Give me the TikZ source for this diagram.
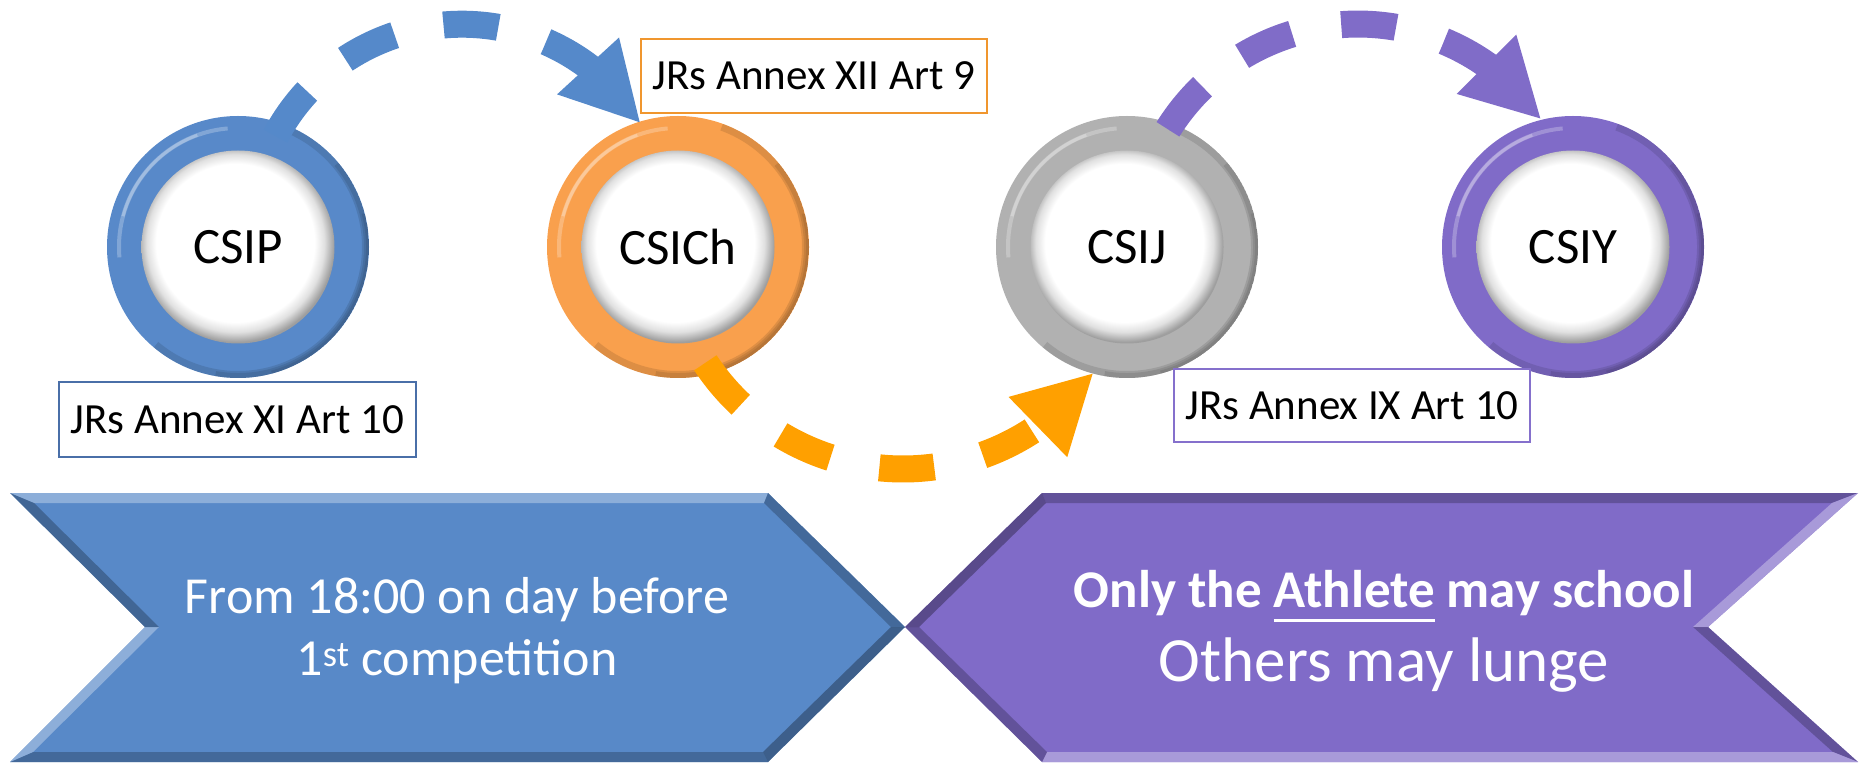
\documentclass[tikz,border=0pt]{standalone}
\usepackage{fontspec}
\setmainfont{Carlito}
\usetikzlibrary{arrows.meta,bending,calc}

\definecolor{cblue}{HTML}{5889C9}
\definecolor{corange}{HTML}{F9A04D}
\definecolor{cgray}{HTML}{B1B1B1}
\definecolor{cpurple}{HTML}{806BC8}
\definecolor{ablue}{HTML}{5589CA}
\definecolor{aorange}{HTML}{FFA000}
\definecolor{apurple}{HTML}{806CC8}
\definecolor{chblue}{HTML}{5889C8}
\definecolor{chpurple}{HTML}{806BC8}
\definecolor{bxblue}{HTML}{4A6FA8}
\definecolor{bxorange}{HTML}{F0962E}
\definecolor{bxpurple}{HTML}{8570CC}

\pgfdeclareradialshading{innerdisk}{\pgfpoint{-1.2bp}{1.8bp}}{color(0bp)=(white); color(20.5bp)=(white); color(23bp)=(white!88!black); color(25.5bp)=(white!62!black); color(50bp)=(white!62!black)}

\newcommand\athul[1]{\setbox0\hbox{#1}\rlap{\rule[-15pt]{\wd0}{3pt}}#1}

\tikzset{
  ring/.style={circle, inner sep=0pt, minimum size=262pt, fill=#1,
    font=\fontsize{51}{60}\selectfont,
    path picture={
      \draw[#1!50!black, opacity=0.22, line width=7pt] (path picture bounding box.center) ++(-130:127.5pt) arc[start angle=-130, end angle=70, radius=127.5pt];
      \draw[#1!50!black, opacity=0.22, line width=5pt] (path picture bounding box.center) ++(-100:128.5pt) arc[start angle=-100, end angle=40, radius=128.5pt];
      \draw[#1!50!black, opacity=0.22, line width=3pt] (path picture bounding box.center) ++(-75:129.5pt) arc[start angle=-75, end angle=15, radius=129.5pt];
      \draw[white, opacity=0.25, line width=4pt] (path picture bounding box.center) ++(95:119pt) arc[start angle=95, end angle=185, radius=119pt];
      \draw[white, opacity=0.25, line width=3pt] (path picture bounding box.center) ++(110:119pt) arc[start angle=110, end angle=165, radius=119pt];
      \shade[shading=innerdisk] (path picture bounding box.center) circle (96.5pt);
    }},
  flow/.style={draw=#1, line width=27pt, dash pattern=on 55pt off 50pt,
    -{Triangle[width=78pt,length=78pt,flex]}},
  lab/.style={draw=#1, line width=2pt, fill=white, inner sep=0pt,
    text height=28pt, text depth=0pt, font=\fontsize{43}{50}\selectfont},
  chtext/.style={text=white, align=center, inner sep=0pt}
}

\begin{document}
\begin{tikzpicture}[x=1pt, y=1pt]
\useasboundingbox (0,0) rectangle (1860,764);

% ---------- blue chevron ----------
\fill[chblue] (10,271) -- (768,271) -- (905,137) -- (768,2) -- (10,2) -- (145,137) -- cycle;
\fill[white!45!chblue, opacity=0.7] (10,271) -- (768,271) -- (764,261) -- (34,261) -- cycle;
\fill[chblue!55!black, opacity=0.5] (768,271) -- (905,137) -- (891,137) -- (764,261) -- cycle;
\fill[chblue!45!black, opacity=0.55] (905,137) -- (768,2) -- (763,12) -- (891,137) -- cycle;
\fill[chblue!55!black, opacity=0.5] (768,2) -- (10,2) -- (33,12) -- (763,12) -- cycle;
\fill[white!40!chblue, opacity=0.8] (10,2) -- (145,137) -- (159,137) -- (33,12) -- cycle;
\fill[chblue!50!black, opacity=0.5] (145,137) -- (10,271) -- (34,261) -- (159,137) -- cycle;

% ---------- purple chevron ----------
\fill[chpurple] (1042,271) -- (1858,271) -- (1708,137) -- (1858,2) -- (1042,2) -- (905,137) -- cycle;
\fill[chpurple!55!black, opacity=0.5] (1042,271) -- (1858,271) -- (1832,261) -- (1046,261) -- cycle;
\fill[white!40!chpurple, opacity=0.8] (1858,271) -- (1708,137) -- (1693,137) -- (1832,261) -- cycle;
\fill[chpurple!55!black, opacity=0.5] (1708,137) -- (1858,2) -- (1833,12) -- (1693,137) -- cycle;
\fill[white!40!chpurple, opacity=0.8] (1858,2) -- (1042,2) -- (1047,12) -- (1833,12) -- cycle;
\fill[chpurple!55!black, opacity=0.5] (1042,2) -- (905,137) -- (919,137) -- (1047,12) -- cycle;
\fill[chpurple!45!black, opacity=0.55] (905,137) -- (1042,271) -- (1046,261) -- (919,137) -- cycle;

% ---------- chevron texts ----------
\node[chtext, font=\fontsize{52}{62}\selectfont] (tleft) at (457,133)
  {From 18:00 on day before\\1\textsuperscript{st} competition};
\node[chtext, font=\fontsize{53}{74}\selectfont] (tright) at (1384,133)
  {{\bfseries Only the \athul{Athlete} may school}\\{\fontsize{63}{74}\selectfont Others may lunge}};

% ---------- rings ----------
\node[ring=cblue]   (csip)  at (238,517)  {CSIP};
\node[ring=corange] (csich) at (678,517)  {CSICh};
\node[ring=cgray]   (csij)  at (1127,517) {CSIJ};
\node[ring=cpurple] (csiy)  at (1573,517) {CSIY};

% ---------- labels ----------
\node[lab=bxblue,   minimum width=357pt, minimum height=75pt] (rxi)  at (237.5,344.5) {JRs Annex XI Art 10};
\node[lab=bxorange, minimum width=346pt, minimum height=74pt] (rxii) at (814,688)     {JRs Annex XII Art 9};
\node[lab=bxpurple, minimum width=356pt, minimum height=73pt] (rix)  at (1352,358.5)  {JRs Annex IX Art 10};

% ---------- dashed arrows ----------
\draw[flow=ablue]   ($(csip.center)+(71.3:117pt)$)   arc[start angle=152,   end angle=32,    radius=211pt];
\draw[flow=aorange] ($(csich.center)+(-76.7:119pt)$) arc[start angle=213.5, end angle=323.6, radius=237pt];
\draw[flow=apurple] ($(csij.center)+(70.8:124.6pt)$) arc[start angle=148,   end angle=35,    radius=224pt];
\end{tikzpicture}
\end{document}
